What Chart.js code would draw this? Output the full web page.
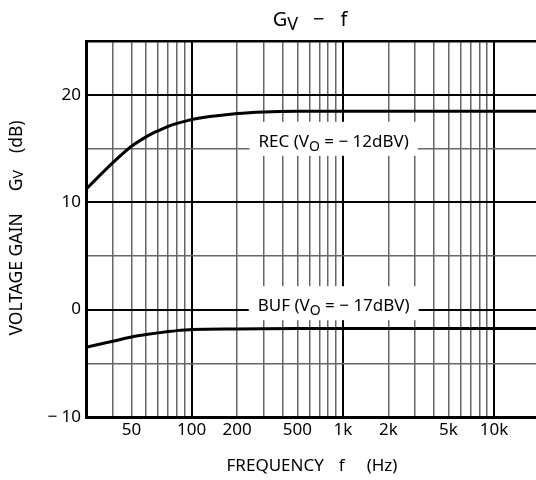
<!DOCTYPE html>
<html>
<head>
<meta charset="utf-8">
<script src="https://cdn.jsdelivr.net/npm/chart.js@4.4.1/dist/chart.umd.min.js"></script>
<style>
  html, body { margin: 0; padding: 0; background: #fff; overflow: hidden; }
  #wrap { position: absolute; left: 0; top: 0; width: 560px; height: 480px; }
</style>
</head>
<body>
<div id="wrap"><canvas id="gvChart" width="560" height="480"></canvas></div>
<script>
// Gv - f curves
const freqs = [20, 30, 40, 50, 60, 70, 80, 90, 100, 200, 300, 500, 1000, 20000];
const recGain = [11.2, 13.65, 15.2, 16.08, 16.64, 17.06, 17.33, 17.52, 17.7, 18.25, 18.4, 18.45, 18.45, 18.45];
const bufGain = [-3.5, -2.95, -2.55, -2.33, -2.17, -2.05, -1.96, -1.9, -1.86, -1.8, -1.78, -1.77, -1.77, -1.77];

// grid and tick labels
const freqGrid = [20, 30, 40, 50, 60, 70, 80, 90, 100, 200, 300, 400, 500, 600, 700, 800, 900,
  1000, 2000, 3000, 4000, 5000, 6000, 7000, 8000, 9000, 10000, 20000];
const freqLabelAt = [40, 100, 200, 500, 1000, 2000, 5000, 10000];
const freqLabels = ['50', '100', '200', '500', '1k', '2k', '5k', '10k'];
const gainGrid = [-10, -5, 0, 5, 10, 15, 20, 25];
const gainLabelAt = [-10, 0, 10, 20];
const gainLabels = ['\u2212 10', '0', '10', '20'];

// curve labels
const curveNames = ['REC', 'BUF'];
const curveLevels = ['\u2212 12dBV', '\u2212 17dBV'];

const FONT = '"Noto Sans", "Open Sans", sans-serif';

function drawParts(ctx, parts, x, y) {
  // parts: text runs with size and baseline shift, or plain gaps
  let w = 0;
  parts.forEach(p => {
    if (p.gap) { w += p.gap; return; }
    ctx.font = p.size + 'px ' + FONT;
    w += ctx.measureText(p.t).width;
  });
  let cx = x - w / 2;
  parts.forEach(p => {
    if (p.gap) { cx += p.gap; return; }
    ctx.font = p.size + 'px ' + FONT;
    ctx.fillText(p.t, cx, y + (p.dy || 0));
    cx += ctx.measureText(p.t).width;
  });
  return w;
}

const textPlugin = {
  id: 'gvText',
  afterDraw(chart) {
    const ctx = chart.ctx;
    const xs = chart.scales.x, ys = chart.scales.y;
    ctx.save();
    ctx.fillStyle = '#000';
    ctx.textBaseline = 'alphabetic';
    ctx.textAlign = 'left';

    // boxed curve labels
    const anchors = [[870, 15.15], [870, -0.15]];
    curveNames.forEach((name, i) => {
      const parts = [
        { t: name + ' (V', size: 17 },
        { t: 'O', size: 14, dy: 4 },
        { t: ' = ' + curveLevels[i] + ')', size: 17 }
      ];
      const cx = xs.getPixelForValue(anchors[i][0]);
      const by = ys.getPixelForValue(anchors[i][1]);
      let w = 0;
      parts.forEach(p => { ctx.font = p.size + 'px ' + FONT; w += ctx.measureText(p.t).width; });
      ctx.fillStyle = '#fff';
      ctx.fillRect(cx - w / 2 - 9, by - 25, w + 18, 34);
      ctx.fillStyle = '#000';
      drawParts(ctx, parts, cx, by);
    });

    // title
    drawParts(ctx, [
      { t: 'G', size: 20 }, { t: 'V', size: 18, dy: 4 }, { gap: 15 },
      { t: '\u2212', size: 20 }, { gap: 16 }, { t: 'f', size: 20 }
    ], 310, 26);

    // x title
    drawParts(ctx, [
      { t: 'FREQUENCY', size: 17 }, { gap: 15 }, { t: 'f', size: 17 }, { gap: 22 }, { t: '(Hz)', size: 17 }
    ], 312, 471);

    // y title
    ctx.translate(22, 228);
    ctx.rotate(-Math.PI / 2);
    drawParts(ctx, [
      { t: 'VOLTAGE GAIN', size: 17.5 }, { gap: 22 }, { t: 'G', size: 17.5 }, { t: 'V', size: 14, dy: 1 },
      { gap: 17 }, { t: '(dB)', size: 17.5 }
    ], 0, 0);
    ctx.restore();
  }
};

const pts = vals => freqs.map((f, i) => ({ x: f, y: vals[i] }));

new Chart(document.getElementById('gvChart'), {
  type: 'line',
  data: {
    datasets: [
      { label: 'REC', data: pts(recGain), borderColor: '#000', borderWidth: 3, pointRadius: 0, cubicInterpolationMode: 'monotone', fill: false },
      { label: 'BUF', data: pts(bufGain), borderColor: '#000', borderWidth: 3, pointRadius: 0, cubicInterpolationMode: 'monotone', fill: false }
    ]
  },
  options: {
    responsive: false,
    animation: false,
    devicePixelRatio: 1,
    layout: { padding: { top: 41, right: 20.5, left: 0, bottom: 0 } },
    plugins: { legend: { display: false }, tooltip: { enabled: false } },
    scales: {
      x: {
        type: 'logarithmic',
        min: 20,
        max: 20000,
        afterBuildTicks: s => { s.ticks = freqGrid.map(v => ({ value: v })); },
        afterFit: s => { s.height = 63; },
        ticks: {
          autoSkip: false,
          maxRotation: 0,
          padding: 3,
          color: '#000',
          font: { family: FONT, size: 17 },
          callback: v => {
            const k = freqLabelAt.indexOf(v);
            return k < 0 ? '' : freqLabels[k];
          }
        },
        grid: {
          drawTicks: false,
          color: c => [100, 1000, 10000].includes(c.tick.value) ? '#000' : '#666',
          lineWidth: c => [100, 1000, 10000].includes(c.tick.value) ? 2 : 1.5
        },
        border: { color: '#000', width: 3 }
      },
      y: {
        min: -10,
        max: 25,
        afterBuildTicks: s => { s.ticks = gainGrid.map(v => ({ value: v })); },
        afterFit: s => { s.width = 86; },
        ticks: {
          padding: 5,
          color: '#000',
          font: { family: FONT, size: 17 },
          callback: v => {
            const k = gainLabelAt.indexOf(v);
            return k < 0 ? '' : gainLabels[k];
          }
        },
        grid: {
          drawTicks: false,
          color: c => c.tick.value % 10 === 0 || c.tick.value === 25 ? '#000' : '#666',
          lineWidth: c => c.tick.value === 25 ? 2.5 : (c.tick.value % 10 === 0 ? 2 : 1.5)
        },
        border: { color: '#000', width: 3 }
      }
    }
  },
  plugins: [textPlugin]
});
</script>
</body>
</html>
